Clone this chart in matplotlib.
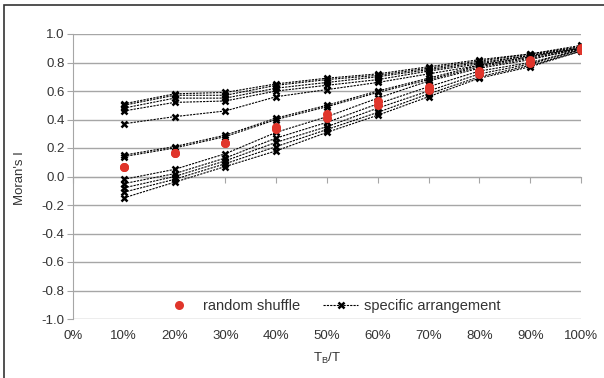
import matplotlib.pyplot as plt
from matplotlib.patches import Rectangle

plt.rcParams["font.family"] = ["Liberation Sans", "DejaVu Sans"]
plt.rcParams["font.size"] = 9.5
plt.rcParams["text.color"] = "#333333"
plt.rcParams["xtick.labelcolor"] = "#333333"
plt.rcParams["ytick.labelcolor"] = "#333333"

# x positions (fraction T_B/T in %)
x_pct = [10, 20, 30, 40, 50, 60, 70, 80, 90, 100]

# specific arrangements (Moran's I)
upper_1 = [0.51, 0.58, 0.59, 0.65, 0.69, 0.72, 0.77, 0.82, 0.86, 0.92]
upper_2 = [0.50, 0.57, 0.57, 0.64, 0.68, 0.71, 0.76, 0.81, 0.86, 0.91]
upper_3 = [0.48, 0.55, 0.55, 0.62, 0.66, 0.70, 0.75, 0.80, 0.85, 0.91]
upper_4 = [0.46, 0.52, 0.53, 0.60, 0.64, 0.68, 0.74, 0.79, 0.85, 0.90]
upper_5 = [0.37, 0.42, 0.46, 0.56, 0.61, 0.66, 0.72, 0.78, 0.84, 0.90]
middle_1 = [0.15, 0.21, 0.29, 0.41, 0.50, 0.60, 0.69, 0.78, 0.84, 0.90]
middle_2 = [0.14, 0.20, 0.28, 0.40, 0.49, 0.59, 0.68, 0.77, 0.83, 0.89]
lower_1 = [-0.02, 0.05, 0.16, 0.31, 0.42, 0.55, 0.67, 0.76, 0.82, 0.90]
lower_2 = [-0.05, 0.02, 0.13, 0.27, 0.38, 0.51, 0.63, 0.74, 0.80, 0.89]
lower_3 = [-0.08, 0.00, 0.11, 0.24, 0.35, 0.48, 0.60, 0.72, 0.79, 0.89]
lower_4 = [-0.11, -0.02, 0.09, 0.21, 0.33, 0.45, 0.58, 0.70, 0.78, 0.88]
lower_5 = [-0.15, -0.04, 0.07, 0.18, 0.31, 0.43, 0.56, 0.69, 0.77, 0.88]

arrangements = [upper_1, upper_2, upper_3, upper_4, upper_5,
                middle_1, middle_2,
                lower_1, lower_2, lower_3, lower_4, lower_5]

# random shuffle runs
shuffle_1 = [0.07, 0.165, 0.235, 0.35, 0.44, 0.53, 0.63, 0.74, 0.82, 0.90]
shuffle_2 = [0.07, 0.165, 0.235, 0.33, 0.41, 0.50, 0.61, 0.72, 0.80, 0.89]

y_ticks = [1.0, 0.8, 0.6, 0.4, 0.2, 0.0, -0.2, -0.4, -0.6, -0.8, -1.0]
x_ticks = [0, 10, 20, 30, 40, 50, 60, 70, 80, 90, 100]
x_labels = [f"{t}%" for t in x_ticks]

W, H = 604, 378
fig = plt.figure(figsize=(W / 100, H / 100), dpi=100)
ax = fig.add_axes([73 / W, 1 - 319 / H, 508 / W, 285 / H])

grid_c = "#a6a6a6"
for i, ys in enumerate(arrangements):
    ax.plot(x_pct, ys, color="black", lw=0.8, ls=(0, (2, 1)),
            marker="x", ms=5, mew=1.8, zorder=3,
            label="specific arrangement" if i == 0 else None)
for i, ys in enumerate([shuffle_1, shuffle_2]):
    ax.plot(x_pct, ys, ls="none", marker="o", ms=6.5, color="#e0352b",
            mec="none", zorder=4, label="random shuffle" if i == 0 else None)

ax.set_xlim(0, 100)
ax.set_ylim(-1.0, 1.0)
ax.set_yticks(y_ticks)
ax.set_yticklabels([f"{v:.1f}" for v in y_ticks])
ax.grid(axis="y", color=grid_c, lw=1.0)
ax.set_axisbelow(True)

for s in ["top", "right"]:
    ax.spines[s].set_visible(False)
ax.spines["left"].set_color(grid_c)
ax.spines["bottom"].set_color(grid_c)
ax.spines["bottom"].set_position(("data", 0))
ax.set_xticks(x_ticks)
ax.tick_params(axis="x", direction="out", length=4, color=grid_c,
               labelbottom=False)
ax.tick_params(axis="y", direction="out", length=4, color=grid_c, pad=2)

sec = ax.secondary_xaxis(0)
sec.set_xticks(x_ticks)
sec.set_xticklabels(x_labels)
sec.tick_params(length=0, pad=8)
sec.spines["bottom"].set_visible(False)

handles, labels = ax.get_legend_handles_labels()
order = [labels.index("random shuffle"), labels.index("specific arrangement")]
ax.legend([handles[i] for i in order], [labels[i] for i in order],
          loc="center", bbox_to_anchor=(0.508, 0.046), ncol=2,
          frameon=False, handlelength=2.4, columnspacing=1.6,
          handletextpad=0.4, fontsize=10.5)

fig.text(20 / W, 1 - 178 / H, "Moran's I", rotation=90,
         ha="center", va="center")
fig.text(327 / W, 1 - 358 / H, r"T$_\mathregular{B}$/T",
         ha="center", va="center")

fig.patches.append(Rectangle((4 / W, -0.5), 2.0, 1.5 - 5 / H,
                             transform=fig.transFigure, fill=False,
                             ec="#333333", lw=1.2))

fig.savefig("out.png", dpi=100)
